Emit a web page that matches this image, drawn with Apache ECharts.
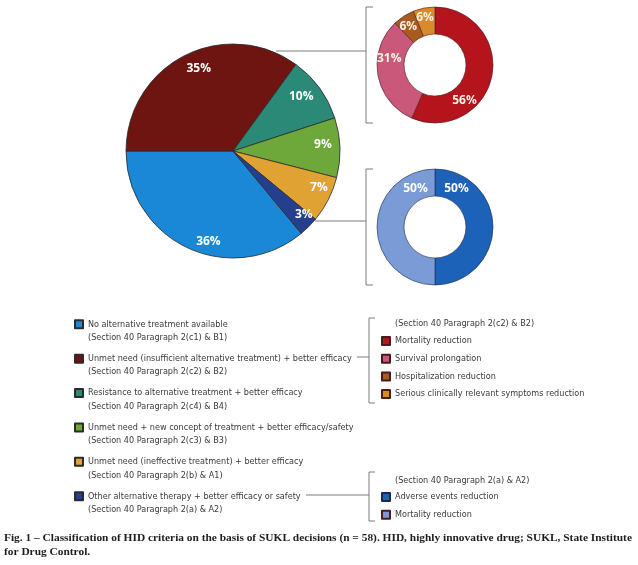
<!DOCTYPE html>
<html><head><meta charset="utf-8">
<script src="https://cdn.jsdelivr.net/npm/echarts@6/dist/echarts.min.js"></script>
<style>html,body{margin:0;padding:0;background:#fff}#c{width:638px;height:565px}</style>
</head><body><div id="c"></div>
<script>
// ---- data ----
const mainNames = [
  'No alternative treatment available',
  'Unmet need (insufficient alternative treatment) + better efficacy',
  'Resistance to alternative treatment + better efficacy',
  'Unmet need + new concept of treatment + better efficacy/safety',
  'Unmet need (ineffective treatment) + better efficacy',
  'Other alternative therapy + better efficacy or safety'
];
const mainSections = [
  '(Section 40 Paragraph 2(c1) & B1)',
  '(Section 40 Paragraph 2(c2) & B2)',
  '(Section 40 Paragraph 2(c4) & B4)',
  '(Section 40 Paragraph 2(c3) & B3)',
  '(Section 40 Paragraph 2(b) & A1)',
  '(Section 40 Paragraph 2(a) & A2)'
];
const mainValues = [36, 35, 10, 9, 7, 3];
const mainColors = ['#1a88d6', '#6e1511', '#2a8a77', '#6fa83a', '#e0a232', '#243f8e'];
const mainLabelOffsets = [[15, 6], [8, 0], [-7, 0], [-3, -4], [3, -6], [5, -2]];

const redHeader = '(Section 40 Paragraph 2(c2) & B2)';
const redNames = ['Mortality reduction', 'Survival prolongation', 'Hospitalization reduction', 'Serious clinically relevant symptoms reduction'];
const redValues = [56, 31, 6, 6];
const redColors = ['#b5141d', '#c9587b', '#a85b1e', '#d98a2b'];
const redLabelOffsets = [[-17, 26], [1, -15], [-1, 2], [-1, -1]];

const blueHeader = '(Section 40 Paragraph 2(a) & A2)';
const blueNames = ['Adverse events reduction', 'Mortality reduction'];
const blueValues = [50, 50];
const blueColors = ['#1b62b8', '#7b9bd6'];
const blueLabelOffsets = [[-26, -38], [28, -38]];

const caption = 'Fig. 1 \u2013 Classification of HID criteria on the basis of SUKL decisions (n = 58). HID, highly innovative drug; SUKL, State Institute\nfor Drug Control.';

// ---- chart ----
const chart = echarts.init(document.getElementById('c'), null, {renderer: 'canvas'});
const lblFont = {color: '#fff', fontSize: 12, fontWeight: 'bold', fontFamily: 'Open Sans'};
const lineColor = '#7d7d7d';
const legFont = 'Liberation Sans Narrow, DejaVu Sans Condensed, Roboto, sans-serif';
const legSize = 9;

function line(points) {
  return {type: 'polyline', shape: {points: points}, style: {stroke: lineColor, lineWidth: 1, fill: null}, silent: true};
}
const pctLabel = p => p.value + '%';

const option = {
  backgroundColor: '#fff',
  animation: false,
  title: [
    {text: redHeader, left: 395, top: 318, padding: 0, textStyle: {fontSize: legSize, lineHeight: 12, fontWeight: 'normal', color: '#3a3a3a', fontFamily: legFont}},
    {text: blueHeader, left: 395, top: 475, padding: 0, textStyle: {fontSize: legSize, lineHeight: 12, fontWeight: 'normal', color: '#3a3a3a', fontFamily: legFont}},
    {text: caption, left: 4, top: 531, padding: 0, textStyle: {fontSize: 11.4, lineHeight: 14, fontWeight: 'bold', color: '#1e1e1e', fontFamily: 'Liberation Serif'}}
  ],
  legend: [
    {
      data: mainNames, orient: 'vertical', left: 69, top: 299,
      icon: 'rect', itemWidth: 8, itemHeight: 8, itemGap: -6.1, itemTextGap: 10,
      selectedMode: false,
      formatter: n => '\n' + n + '\n' + mainSections[mainNames.indexOf(n)],
      textStyle: {fontSize: legSize, lineHeight: 13.5, color: '#3a3a3a', fontFamily: legFont}
    },
    {
      data: redNames.map((n, i) => ({name: n, itemStyle: {color: redColors[i]}})),
      orient: 'vertical', left: 376, top: 330,
      icon: 'rect', itemWidth: 8, itemHeight: 8, itemGap: 5.7, itemTextGap: 6,
      selectedMode: false,
      textStyle: {fontSize: legSize, lineHeight: 12, color: '#3a3a3a', fontFamily: legFont}
    },
    {
      data: blueNames.map((n, i) => ({name: n, itemStyle: {color: blueColors[i]}})),
      orient: 'vertical', left: 376, top: 486,
      icon: 'rect', itemWidth: 8, itemHeight: 8, itemGap: 5.7, itemTextGap: 6,
      selectedMode: false,
      textStyle: {fontSize: legSize, lineHeight: 12, color: '#3a3a3a', fontFamily: legFont}
    }
  ],
  series: [
    {
      type: 'pie', center: [233, 151], radius: [0, 107], startAngle: 180 + mainValues[0] * 3.6,
      clockwise: true, silent: true, label: {show: false}, labelLine: {show: false},
      itemStyle: {borderColor: '#2b2b2b', borderWidth: 0.8},
      data: mainNames.map((n, i) => ({name: n, value: mainValues[i], itemStyle: {color: mainColors[i]}}))
    },
    {
      type: 'pie', center: [233, 151], radius: [76, 104], startAngle: 180 + mainValues[0] * 3.6,
      clockwise: true, silent: true, avoidLabelOverlap: false, labelLine: {show: false},
      labelLayout: {hideOverlap: false},
      label: Object.assign({show: true, position: 'inside', rotate: 0, formatter: pctLabel}, lblFont),
      itemStyle: {color: 'rgba(0,0,0,0)', borderWidth: 0},
      data: mainNames.map((n, i) => ({name: n, value: mainValues[i], label: {offset: mainLabelOffsets[i]}}))
    },
    {
      type: 'pie', center: [435, 65], radius: [31, 58], startAngle: 90, clockwise: true,
      silent: true, avoidLabelOverlap: false, labelLine: {show: false},
      labelLayout: {hideOverlap: false},
      itemStyle: {borderColor: '#4a1c1c', borderWidth: 0.6},
      label: Object.assign({show: true, position: 'inside', rotate: 0, formatter: pctLabel, padding: 0}, lblFont, {color: '#fbf1e4'}),
      data: redNames.map((n, i) => ({name: n, value: redValues[i], itemStyle: {color: redColors[i]}, label: {offset: redLabelOffsets[i]}}))
    },
    {
      type: 'pie', center: [435, 227], radius: [31, 58], startAngle: 90, clockwise: true,
      silent: true, avoidLabelOverlap: false, labelLine: {show: false},
      labelLayout: {hideOverlap: false},
      itemStyle: {borderColor: '#1c2a4a', borderWidth: 0.6},
      label: Object.assign({show: true, position: 'inside', rotate: 0, formatter: pctLabel}, lblFont),
      data: blueNames.map((n, i) => ({name: n, value: blueValues[i], itemStyle: {color: blueColors[i]}, label: {offset: blueLabelOffsets[i]}}))
    }
  ],
  graphic: [
    line([[276, 51], [366, 51]]),
    line([[373, 7], [366, 7], [366, 123], [373, 123]]),
    line([[315, 221], [366, 221]]),
    line([[373, 169], [366, 169], [366, 285], [373, 285]]),
    line([[357, 357], [369, 357]]),
    line([[375, 318], [369, 318], [369, 403], [375, 403]]),
    line([[306, 495], [369, 495]]),
    line([[375, 472], [369, 472], [369, 521], [375, 521]])
  ]
};
chart.setOption(option);
</script></body></html>
